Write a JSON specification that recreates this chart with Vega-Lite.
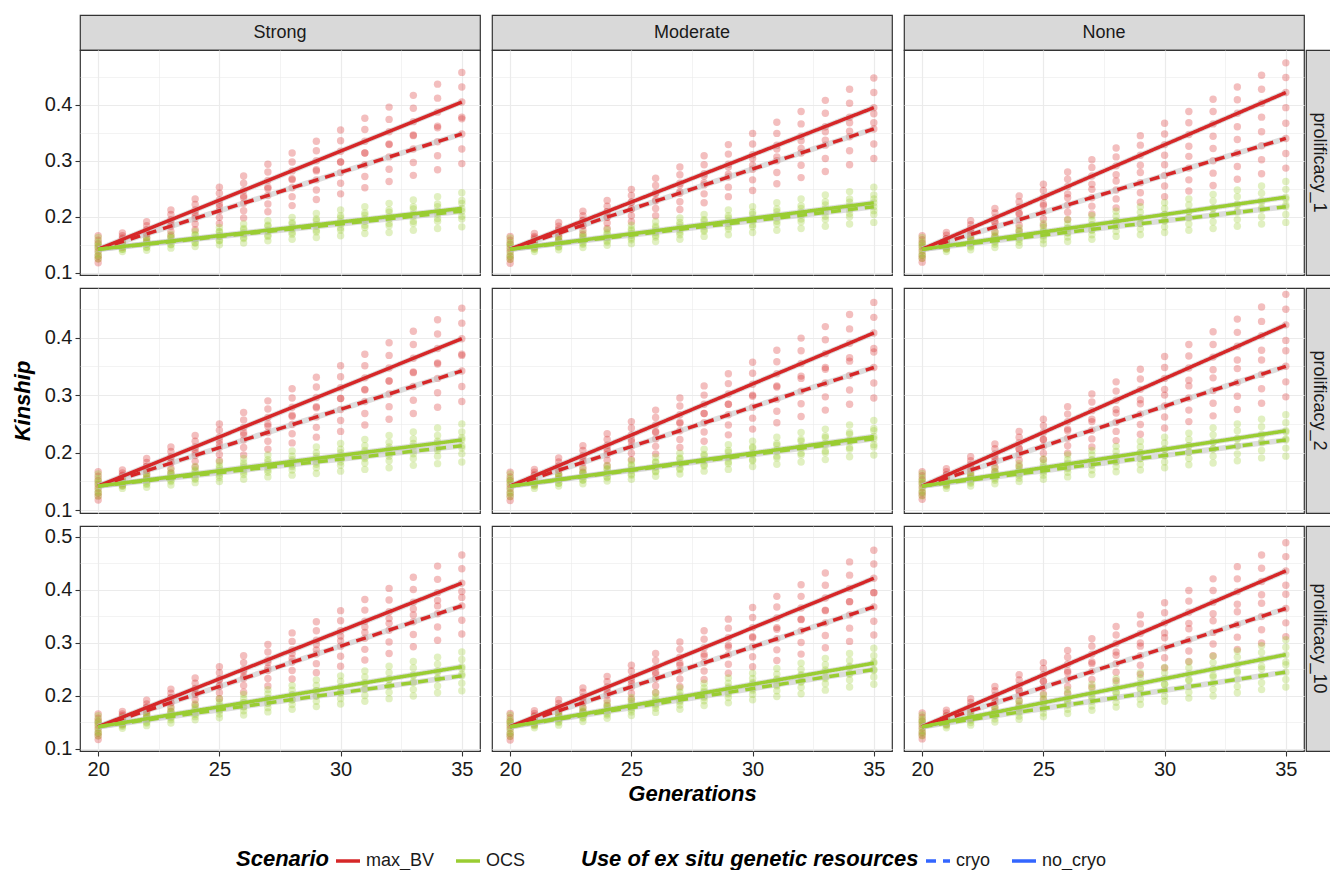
{
"$schema":"https://vega.github.io/schema/vega-lite/v6.json",
"background":"white",
"padding":{"left":10,"top":14,"right":0,"bottom":0},
"columns":6,
"spacing":{"row":0,"column":2},
"bounds":"flush",
"resolve":{"scale":{"color":"shared","strokeDash":"shared"}},
"datasets":{
"p1S":[
{"g":20,"max_BV":[0.118,0.13,0.138,0.145,0.152,0.166,0.125,0.158],"OCS":[0.125,0.134,0.141,0.147,0.155,0.163,0.13,0.15]},
{"g":21,"max_BV":[0.145,0.156,0.162,0.154,0.16,0.171,0.15,0.166],"OCS":[0.138,0.147,0.152,0.142,0.147,0.156,0.142,0.152]},
{"g":22,"max_BV":[0.155,0.169,0.176,0.17,0.177,0.191,0.162,0.184],"OCS":[0.14,0.151,0.157,0.146,0.152,0.163,0.145,0.158]},
{"g":23,"max_BV":[0.166,0.183,0.192,0.186,0.195,0.212,0.174,0.204],"OCS":[0.144,0.156,0.162,0.151,0.157,0.169,0.15,0.163]},
{"g":24,"max_BV":[0.177,0.197,0.207,0.202,0.212,0.232,0.187,0.222],"OCS":[0.147,0.16,0.167,0.154,0.161,0.174,0.153,0.168]},
{"g":25,"max_BV":[0.188,0.211,0.223,0.218,0.23,0.253,0.199,0.242],"OCS":[0.15,0.165,0.173,0.158,0.166,0.181,0.157,0.174]},
{"g":26,"max_BV":[0.198,0.224,0.237,0.234,0.247,0.273,0.211,0.26],"OCS":[0.153,0.169,0.177,0.163,0.171,0.187,0.161,0.179]},
{"g":27,"max_BV":[0.209,0.238,0.253,0.25,0.265,0.294,0.223,0.28],"OCS":[0.157,0.174,0.183,0.167,0.176,0.193,0.165,0.185]},
{"g":28,"max_BV":[0.22,0.252,0.268,0.266,0.282,0.314,0.236,0.298],"OCS":[0.16,0.178,0.187,0.172,0.181,0.199,0.169,0.19]},
{"g":29,"max_BV":[0.231,0.266,0.284,0.282,0.3,0.335,0.248,0.318],"OCS":[0.163,0.183,0.193,0.176,0.186,0.206,0.173,0.196]},
{"g":30,"max_BV":[0.241,0.279,0.298,0.298,0.317,0.355,0.26,0.336],"OCS":[0.166,0.187,0.198,0.18,0.191,0.212,0.176,0.202]},
{"g":31,"max_BV":[0.252,0.293,0.314,0.314,0.335,0.376,0.272,0.356],"OCS":[0.17,0.192,0.203,0.185,0.196,0.218,0.181,0.207]},
{"g":32,"max_BV":[0.263,0.307,0.329,0.33,0.352,0.396,0.285,0.374],"OCS":[0.172,0.196,0.208,0.188,0.2,0.224,0.184,0.212]},
{"g":33,"max_BV":[0.274,0.321,0.345,0.346,0.37,0.417,0.297,0.394],"OCS":[0.176,0.201,0.214,0.192,0.205,0.23,0.188,0.218]},
{"g":34,"max_BV":[0.284,0.334,0.359,0.362,0.387,0.437,0.309,0.412],"OCS":[0.179,0.205,0.218,0.197,0.21,0.236,0.192,0.223]},
{"g":35,"max_BV":[0.295,0.348,0.375,0.378,0.405,0.458,0.321,0.432],"OCS":[0.182,0.21,0.224,0.201,0.215,0.243,0.196,0.229]}
],
"p1M":[
{"g":20,"max_BV":[0.117,0.129,0.137,0.144,0.151,0.165,0.124,0.158],"OCS":[0.124,0.133,0.14,0.147,0.154,0.162,0.129,0.151]},
{"g":21,"max_BV":[0.145,0.156,0.162,0.153,0.159,0.17,0.15,0.165],"OCS":[0.138,0.147,0.152,0.143,0.148,0.157,0.142,0.153]},
{"g":22,"max_BV":[0.157,0.171,0.178,0.169,0.176,0.19,0.164,0.183],"OCS":[0.141,0.152,0.158,0.147,0.153,0.164,0.146,0.159]},
{"g":23,"max_BV":[0.168,0.185,0.194,0.184,0.193,0.21,0.176,0.202],"OCS":[0.145,0.157,0.163,0.153,0.159,0.171,0.151,0.165]},
{"g":24,"max_BV":[0.179,0.199,0.209,0.199,0.209,0.229,0.189,0.219],"OCS":[0.149,0.162,0.169,0.157,0.164,0.177,0.155,0.171]},
{"g":25,"max_BV":[0.191,0.214,0.226,0.214,0.226,0.249,0.202,0.238],"OCS":[0.152,0.167,0.175,0.162,0.17,0.185,0.159,0.178]},
{"g":26,"max_BV":[0.202,0.228,0.241,0.23,0.243,0.269,0.215,0.256],"OCS":[0.156,0.172,0.18,0.167,0.175,0.191,0.164,0.183]},
{"g":27,"max_BV":[0.213,0.242,0.257,0.245,0.26,0.289,0.227,0.275],"OCS":[0.16,0.177,0.186,0.172,0.181,0.198,0.168,0.19]},
{"g":28,"max_BV":[0.225,0.257,0.273,0.261,0.277,0.309,0.241,0.293],"OCS":[0.165,0.183,0.192,0.177,0.186,0.204,0.174,0.195]},
{"g":29,"max_BV":[0.236,0.271,0.289,0.276,0.294,0.329,0.253,0.312],"OCS":[0.168,0.188,0.198,0.182,0.192,0.212,0.178,0.202]},
{"g":30,"max_BV":[0.247,0.285,0.304,0.292,0.311,0.349,0.266,0.33],"OCS":[0.172,0.193,0.204,0.186,0.197,0.218,0.182,0.208]},
{"g":31,"max_BV":[0.259,0.3,0.321,0.307,0.328,0.369,0.279,0.349],"OCS":[0.176,0.198,0.209,0.192,0.203,0.225,0.187,0.214]},
{"g":32,"max_BV":[0.27,0.314,0.336,0.322,0.344,0.388,0.292,0.366],"OCS":[0.179,0.203,0.215,0.196,0.208,0.232,0.191,0.22]},
{"g":33,"max_BV":[0.281,0.328,0.352,0.337,0.361,0.408,0.304,0.385],"OCS":[0.183,0.208,0.221,0.201,0.214,0.239,0.195,0.227]},
{"g":34,"max_BV":[0.293,0.343,0.368,0.353,0.378,0.428,0.318,0.403],"OCS":[0.187,0.213,0.226,0.206,0.219,0.245,0.2,0.232]},
{"g":35,"max_BV":[0.304,0.357,0.384,0.368,0.395,0.448,0.33,0.422],"OCS":[0.19,0.218,0.232,0.211,0.225,0.253,0.204,0.239]}
],
"p1N":[
{"g":20,"max_BV":[0.119,0.131,0.139,0.146,0.153,0.166,0.126,0.159],"OCS":[0.126,0.135,0.142,0.148,0.155,0.163,0.131,0.151]},
{"g":21,"max_BV":[0.144,0.155,0.161,0.155,0.161,0.172,0.149,0.167],"OCS":[0.138,0.147,0.152,0.143,0.148,0.157,0.142,0.153]},
{"g":22,"max_BV":[0.154,0.168,0.175,0.172,0.179,0.193,0.161,0.186],"OCS":[0.141,0.152,0.158,0.148,0.154,0.165,0.146,0.16]},
{"g":23,"max_BV":[0.165,0.182,0.191,0.189,0.198,0.215,0.173,0.207],"OCS":[0.145,0.157,0.163,0.155,0.161,0.173,0.151,0.167]},
{"g":24,"max_BV":[0.175,0.195,0.205,0.207,0.217,0.237,0.185,0.227],"OCS":[0.149,0.162,0.169,0.16,0.167,0.18,0.155,0.174]},
{"g":25,"max_BV":[0.185,0.208,0.22,0.223,0.235,0.258,0.196,0.247],"OCS":[0.152,0.167,0.175,0.165,0.173,0.188,0.159,0.181]},
{"g":26,"max_BV":[0.195,0.221,0.234,0.241,0.254,0.28,0.208,0.267],"OCS":[0.156,0.172,0.18,0.171,0.179,0.195,0.164,0.187]},
{"g":27,"max_BV":[0.205,0.234,0.249,0.258,0.273,0.302,0.219,0.288],"OCS":[0.16,0.177,0.186,0.176,0.185,0.202,0.168,0.194]},
{"g":28,"max_BV":[0.216,0.248,0.264,0.275,0.291,0.323,0.232,0.307],"OCS":[0.165,0.183,0.192,0.183,0.192,0.21,0.174,0.201]},
{"g":29,"max_BV":[0.226,0.261,0.279,0.292,0.31,0.345,0.243,0.328],"OCS":[0.168,0.188,0.198,0.188,0.198,0.218,0.178,0.208]},
{"g":30,"max_BV":[0.236,0.274,0.293,0.31,0.329,0.367,0.255,0.348],"OCS":[0.172,0.193,0.204,0.193,0.204,0.225,0.182,0.215]},
{"g":31,"max_BV":[0.246,0.287,0.308,0.326,0.347,0.388,0.266,0.368],"OCS":[0.176,0.198,0.209,0.199,0.21,0.232,0.187,0.221]},
{"g":32,"max_BV":[0.256,0.3,0.322,0.344,0.366,0.41,0.278,0.388],"OCS":[0.179,0.203,0.215,0.204,0.216,0.24,0.191,0.228]},
{"g":33,"max_BV":[0.267,0.314,0.338,0.361,0.385,0.432,0.29,0.409],"OCS":[0.183,0.208,0.221,0.21,0.223,0.248,0.195,0.236]},
{"g":34,"max_BV":[0.277,0.327,0.352,0.378,0.403,0.453,0.302,0.428],"OCS":[0.187,0.213,0.226,0.216,0.229,0.255,0.2,0.242]},
{"g":35,"max_BV":[0.287,0.34,0.367,0.395,0.422,0.475,0.313,0.449],"OCS":[0.19,0.218,0.232,0.221,0.235,0.263,0.204,0.249]}
],
"p2S":[
{"g":20,"max_BV":[0.118,0.13,0.138,0.145,0.152,0.167,0.125,0.159],"OCS":[0.125,0.134,0.141,0.147,0.155,0.163,0.13,0.15]},
{"g":21,"max_BV":[0.144,0.155,0.161,0.153,0.159,0.17,0.149,0.165],"OCS":[0.138,0.147,0.152,0.142,0.147,0.156,0.142,0.152]},
{"g":22,"max_BV":[0.155,0.169,0.176,0.169,0.176,0.19,0.162,0.183],"OCS":[0.14,0.151,0.157,0.147,0.153,0.164,0.145,0.159]},
{"g":23,"max_BV":[0.165,0.182,0.191,0.184,0.193,0.21,0.173,0.202],"OCS":[0.144,0.156,0.162,0.152,0.158,0.17,0.15,0.164]},
{"g":24,"max_BV":[0.175,0.195,0.205,0.2,0.21,0.23,0.185,0.22],"OCS":[0.148,0.161,0.168,0.156,0.163,0.176,0.154,0.17]},
{"g":25,"max_BV":[0.186,0.209,0.221,0.215,0.227,0.25,0.197,0.239],"OCS":[0.15,0.165,0.173,0.161,0.169,0.184,0.157,0.177]},
{"g":26,"max_BV":[0.196,0.222,0.235,0.231,0.244,0.27,0.209,0.257],"OCS":[0.154,0.17,0.178,0.166,0.174,0.19,0.162,0.182]},
{"g":27,"max_BV":[0.206,0.235,0.25,0.246,0.261,0.29,0.22,0.276],"OCS":[0.158,0.175,0.184,0.17,0.179,0.196,0.166,0.188]},
{"g":28,"max_BV":[0.217,0.249,0.265,0.263,0.279,0.311,0.233,0.295],"OCS":[0.161,0.179,0.188,0.176,0.185,0.203,0.17,0.194]},
{"g":29,"max_BV":[0.227,0.262,0.28,0.278,0.296,0.331,0.244,0.314],"OCS":[0.164,0.184,0.194,0.18,0.19,0.21,0.174,0.2]},
{"g":30,"max_BV":[0.237,0.275,0.294,0.294,0.313,0.351,0.256,0.332],"OCS":[0.168,0.189,0.2,0.184,0.195,0.216,0.178,0.206]},
{"g":31,"max_BV":[0.248,0.289,0.31,0.309,0.33,0.371,0.268,0.351],"OCS":[0.171,0.193,0.204,0.19,0.201,0.223,0.182,0.212]},
{"g":32,"max_BV":[0.258,0.302,0.324,0.325,0.347,0.391,0.28,0.369],"OCS":[0.174,0.198,0.21,0.194,0.206,0.23,0.186,0.218]},
{"g":33,"max_BV":[0.268,0.315,0.339,0.34,0.364,0.411,0.291,0.388],"OCS":[0.178,0.203,0.216,0.198,0.211,0.236,0.19,0.224]},
{"g":34,"max_BV":[0.279,0.329,0.354,0.356,0.381,0.431,0.304,0.406],"OCS":[0.181,0.207,0.22,0.204,0.217,0.243,0.194,0.23]},
{"g":35,"max_BV":[0.289,0.342,0.369,0.371,0.398,0.451,0.315,0.425],"OCS":[0.184,0.212,0.226,0.208,0.222,0.25,0.198,0.236]}
],
"p2M":[
{"g":20,"max_BV":[0.117,0.13,0.138,0.145,0.152,0.166,0.124,0.158],"OCS":[0.124,0.134,0.141,0.148,0.155,0.163,0.129,0.151]},
{"g":21,"max_BV":[0.145,0.156,0.162,0.154,0.16,0.171,0.15,0.166],"OCS":[0.138,0.147,0.152,0.143,0.148,0.157,0.142,0.153]},
{"g":22,"max_BV":[0.155,0.169,0.176,0.17,0.177,0.191,0.162,0.184],"OCS":[0.142,0.153,0.159,0.147,0.153,0.164,0.147,0.159]},
{"g":23,"max_BV":[0.166,0.183,0.192,0.186,0.195,0.212,0.174,0.204],"OCS":[0.146,0.158,0.164,0.153,0.159,0.171,0.152,0.165]},
{"g":24,"max_BV":[0.177,0.197,0.207,0.203,0.213,0.233,0.187,0.223],"OCS":[0.151,0.164,0.171,0.158,0.165,0.178,0.157,0.172]},
{"g":25,"max_BV":[0.188,0.211,0.223,0.219,0.231,0.254,0.199,0.243],"OCS":[0.154,0.169,0.177,0.163,0.171,0.186,0.161,0.179]},
{"g":26,"max_BV":[0.198,0.224,0.237,0.235,0.248,0.274,0.211,0.261],"OCS":[0.159,0.175,0.183,0.168,0.176,0.192,0.167,0.184]},
{"g":27,"max_BV":[0.209,0.238,0.253,0.251,0.266,0.295,0.223,0.281],"OCS":[0.163,0.18,0.189,0.173,0.182,0.199,0.171,0.191]},
{"g":28,"max_BV":[0.22,0.252,0.268,0.268,0.284,0.316,0.236,0.3],"OCS":[0.168,0.186,0.195,0.179,0.188,0.206,0.177,0.197]},
{"g":29,"max_BV":[0.231,0.266,0.284,0.284,0.302,0.337,0.248,0.32],"OCS":[0.171,0.191,0.201,0.184,0.194,0.214,0.181,0.204]},
{"g":30,"max_BV":[0.241,0.279,0.298,0.3,0.319,0.357,0.26,0.338],"OCS":[0.176,0.197,0.208,0.188,0.199,0.22,0.186,0.21]},
{"g":31,"max_BV":[0.252,0.293,0.314,0.316,0.337,0.378,0.272,0.358],"OCS":[0.18,0.202,0.213,0.194,0.205,0.227,0.191,0.216]},
{"g":32,"max_BV":[0.263,0.307,0.329,0.333,0.355,0.399,0.285,0.377],"OCS":[0.184,0.208,0.22,0.199,0.211,0.235,0.196,0.223]},
{"g":33,"max_BV":[0.274,0.321,0.345,0.348,0.372,0.419,0.297,0.396],"OCS":[0.188,0.213,0.226,0.203,0.216,0.241,0.2,0.229]},
{"g":34,"max_BV":[0.284,0.334,0.359,0.365,0.39,0.44,0.309,0.415],"OCS":[0.193,0.219,0.232,0.209,0.222,0.248,0.206,0.235]},
{"g":35,"max_BV":[0.295,0.348,0.375,0.381,0.408,0.461,0.321,0.435],"OCS":[0.196,0.224,0.238,0.214,0.228,0.256,0.21,0.242]}
],
"p2N":[
{"g":20,"max_BV":[0.119,0.131,0.139,0.146,0.153,0.167,0.126,0.16],"OCS":[0.125,0.135,0.142,0.148,0.156,0.164,0.131,0.151]},
{"g":21,"max_BV":[0.145,0.156,0.162,0.155,0.161,0.172,0.15,0.167],"OCS":[0.138,0.147,0.152,0.143,0.148,0.157,0.142,0.153]},
{"g":22,"max_BV":[0.156,0.17,0.177,0.172,0.179,0.193,0.163,0.186],"OCS":[0.142,0.153,0.159,0.149,0.155,0.166,0.147,0.161]},
{"g":23,"max_BV":[0.167,0.184,0.193,0.189,0.198,0.215,0.175,0.207],"OCS":[0.146,0.158,0.164,0.155,0.161,0.173,0.152,0.167]},
{"g":24,"max_BV":[0.177,0.197,0.207,0.207,0.217,0.237,0.187,0.227],"OCS":[0.15,0.163,0.17,0.161,0.168,0.181,0.156,0.175]},
{"g":25,"max_BV":[0.188,0.211,0.223,0.223,0.235,0.258,0.199,0.247],"OCS":[0.154,0.169,0.177,0.166,0.174,0.189,0.161,0.182]},
{"g":26,"max_BV":[0.199,0.225,0.238,0.241,0.254,0.28,0.212,0.267],"OCS":[0.158,0.174,0.182,0.172,0.18,0.196,0.166,0.188]},
{"g":27,"max_BV":[0.21,0.239,0.254,0.258,0.273,0.302,0.224,0.288],"OCS":[0.162,0.179,0.188,0.178,0.187,0.204,0.17,0.196]},
{"g":28,"max_BV":[0.221,0.253,0.269,0.275,0.291,0.323,0.237,0.307],"OCS":[0.167,0.185,0.194,0.184,0.193,0.211,0.176,0.202]},
{"g":29,"max_BV":[0.232,0.267,0.285,0.292,0.31,0.345,0.249,0.328],"OCS":[0.17,0.19,0.2,0.19,0.2,0.22,0.18,0.21]},
{"g":30,"max_BV":[0.243,0.281,0.3,0.31,0.329,0.367,0.262,0.348],"OCS":[0.174,0.195,0.206,0.195,0.206,0.227,0.184,0.217]},
{"g":31,"max_BV":[0.254,0.295,0.316,0.326,0.347,0.388,0.274,0.368],"OCS":[0.179,0.201,0.212,0.201,0.212,0.234,0.19,0.223]},
{"g":32,"max_BV":[0.264,0.308,0.33,0.344,0.366,0.41,0.286,0.388],"OCS":[0.182,0.206,0.218,0.207,0.219,0.243,0.194,0.231]},
{"g":33,"max_BV":[0.275,0.322,0.346,0.361,0.385,0.432,0.298,0.409],"OCS":[0.186,0.211,0.224,0.212,0.225,0.25,0.198,0.238]},
{"g":34,"max_BV":[0.286,0.336,0.361,0.378,0.403,0.453,0.311,0.428],"OCS":[0.191,0.217,0.23,0.219,0.232,0.258,0.204,0.245]},
{"g":35,"max_BV":[0.297,0.35,0.377,0.395,0.422,0.475,0.323,0.449],"OCS":[0.194,0.222,0.236,0.224,0.238,0.266,0.208,0.252]}
],
"p3S":[
{"g":20,"max_BV":[0.118,0.13,0.138,0.145,0.152,0.166,0.125,0.158],"OCS":[0.125,0.134,0.141,0.148,0.155,0.163,0.13,0.15]},
{"g":21,"max_BV":[0.146,0.157,0.163,0.154,0.16,0.171,0.151,0.166],"OCS":[0.139,0.148,0.153,0.145,0.15,0.159,0.143,0.155]},
{"g":22,"max_BV":[0.158,0.172,0.179,0.171,0.178,0.192,0.165,0.185],"OCS":[0.144,0.155,0.161,0.151,0.157,0.168,0.149,0.163]},
{"g":23,"max_BV":[0.171,0.188,0.197,0.187,0.196,0.213,0.179,0.205],"OCS":[0.149,0.161,0.167,0.159,0.165,0.177,0.155,0.171]},
{"g":24,"max_BV":[0.183,0.203,0.213,0.204,0.214,0.234,0.193,0.224],"OCS":[0.155,0.168,0.175,0.165,0.172,0.185,0.161,0.179]},
{"g":25,"max_BV":[0.195,0.218,0.23,0.22,0.232,0.255,0.206,0.244],"OCS":[0.159,0.174,0.182,0.172,0.18,0.195,0.166,0.188]},
{"g":26,"max_BV":[0.207,0.233,0.246,0.237,0.25,0.276,0.22,0.263],"OCS":[0.164,0.18,0.188,0.179,0.187,0.203,0.172,0.195]},
{"g":27,"max_BV":[0.219,0.248,0.263,0.253,0.268,0.297,0.233,0.283],"OCS":[0.17,0.187,0.196,0.186,0.195,0.212,0.178,0.204]},
{"g":28,"max_BV":[0.232,0.264,0.28,0.271,0.287,0.319,0.248,0.303],"OCS":[0.175,0.193,0.202,0.193,0.202,0.22,0.184,0.211]},
{"g":29,"max_BV":[0.244,0.279,0.297,0.287,0.305,0.34,0.261,0.323],"OCS":[0.18,0.2,0.21,0.2,0.21,0.23,0.19,0.22]},
{"g":30,"max_BV":[0.256,0.294,0.313,0.304,0.323,0.361,0.275,0.342],"OCS":[0.185,0.206,0.217,0.206,0.217,0.238,0.195,0.228]},
{"g":31,"max_BV":[0.268,0.309,0.33,0.32,0.341,0.382,0.288,0.362],"OCS":[0.19,0.212,0.223,0.214,0.225,0.247,0.201,0.236]},
{"g":32,"max_BV":[0.28,0.324,0.346,0.337,0.359,0.403,0.302,0.381],"OCS":[0.195,0.219,0.231,0.22,0.232,0.256,0.207,0.244]},
{"g":33,"max_BV":[0.293,0.34,0.364,0.353,0.377,0.424,0.316,0.401],"OCS":[0.2,0.225,0.238,0.227,0.24,0.265,0.212,0.253]},
{"g":34,"max_BV":[0.305,0.355,0.38,0.37,0.395,0.445,0.33,0.42],"OCS":[0.206,0.232,0.245,0.234,0.247,0.273,0.219,0.26]},
{"g":35,"max_BV":[0.317,0.37,0.397,0.386,0.413,0.466,0.343,0.44],"OCS":[0.21,0.238,0.252,0.241,0.255,0.283,0.224,0.269]}
],
"p3M":[
{"g":20,"max_BV":[0.117,0.129,0.138,0.145,0.152,0.167,0.124,0.159],"OCS":[0.124,0.134,0.141,0.148,0.155,0.164,0.129,0.151]},
{"g":21,"max_BV":[0.146,0.157,0.163,0.155,0.161,0.172,0.151,0.167],"OCS":[0.14,0.149,0.154,0.145,0.15,0.159,0.144,0.155]},
{"g":22,"max_BV":[0.158,0.172,0.179,0.172,0.179,0.193,0.165,0.186],"OCS":[0.145,0.156,0.162,0.152,0.158,0.169,0.15,0.164]},
{"g":23,"max_BV":[0.17,0.187,0.196,0.189,0.198,0.215,0.178,0.207],"OCS":[0.152,0.164,0.17,0.16,0.166,0.178,0.158,0.172]},
{"g":24,"max_BV":[0.182,0.202,0.212,0.207,0.217,0.237,0.192,0.227],"OCS":[0.158,0.171,0.178,0.167,0.174,0.187,0.164,0.181]},
{"g":25,"max_BV":[0.194,0.217,0.229,0.223,0.235,0.258,0.205,0.247],"OCS":[0.163,0.178,0.186,0.174,0.182,0.197,0.17,0.19]},
{"g":26,"max_BV":[0.206,0.232,0.245,0.241,0.254,0.28,0.219,0.267],"OCS":[0.169,0.185,0.193,0.182,0.19,0.206,0.177,0.198]},
{"g":27,"max_BV":[0.218,0.247,0.262,0.258,0.273,0.302,0.232,0.288],"OCS":[0.175,0.192,0.201,0.189,0.198,0.215,0.183,0.207]},
{"g":28,"max_BV":[0.231,0.263,0.279,0.275,0.291,0.323,0.247,0.307],"OCS":[0.182,0.2,0.209,0.197,0.206,0.224,0.191,0.215]},
{"g":29,"max_BV":[0.243,0.278,0.296,0.292,0.31,0.345,0.26,0.328],"OCS":[0.187,0.207,0.217,0.204,0.214,0.234,0.197,0.224]},
{"g":30,"max_BV":[0.255,0.293,0.312,0.31,0.329,0.367,0.274,0.348],"OCS":[0.193,0.214,0.225,0.211,0.222,0.243,0.203,0.233]},
{"g":31,"max_BV":[0.267,0.308,0.329,0.326,0.347,0.388,0.287,0.368],"OCS":[0.199,0.221,0.232,0.219,0.23,0.252,0.21,0.241]},
{"g":32,"max_BV":[0.279,0.323,0.345,0.344,0.366,0.41,0.301,0.388],"OCS":[0.204,0.228,0.24,0.226,0.238,0.262,0.216,0.25]},
{"g":33,"max_BV":[0.291,0.338,0.362,0.361,0.385,0.432,0.314,0.409],"OCS":[0.211,0.236,0.249,0.233,0.246,0.271,0.223,0.259]},
{"g":34,"max_BV":[0.303,0.353,0.378,0.378,0.403,0.453,0.328,0.428],"OCS":[0.217,0.243,0.256,0.241,0.254,0.28,0.23,0.267]},
{"g":35,"max_BV":[0.315,0.368,0.395,0.395,0.422,0.475,0.341,0.449],"OCS":[0.222,0.25,0.264,0.248,0.262,0.29,0.236,0.276]}
],
"p3N":[
{"g":20,"max_BV":[0.119,0.131,0.139,0.146,0.153,0.168,0.126,0.16],"OCS":[0.125,0.135,0.142,0.149,0.156,0.164,0.13,0.152]},
{"g":21,"max_BV":[0.146,0.157,0.163,0.156,0.162,0.173,0.151,0.168],"OCS":[0.14,0.149,0.154,0.146,0.151,0.16,0.144,0.156]},
{"g":22,"max_BV":[0.158,0.172,0.179,0.174,0.181,0.195,0.165,0.188],"OCS":[0.145,0.156,0.162,0.154,0.16,0.171,0.15,0.166]},
{"g":23,"max_BV":[0.17,0.187,0.196,0.192,0.201,0.218,0.178,0.21],"OCS":[0.151,0.163,0.169,0.163,0.169,0.181,0.157,0.175]},
{"g":24,"max_BV":[0.181,0.201,0.211,0.21,0.22,0.24,0.191,0.23],"OCS":[0.156,0.169,0.176,0.171,0.178,0.191,0.162,0.185]},
{"g":25,"max_BV":[0.193,0.216,0.228,0.228,0.24,0.263,0.204,0.252],"OCS":[0.161,0.176,0.184,0.179,0.187,0.202,0.168,0.195]},
{"g":26,"max_BV":[0.205,0.231,0.244,0.247,0.26,0.286,0.218,0.273],"OCS":[0.167,0.183,0.191,0.188,0.196,0.212,0.175,0.204]},
{"g":27,"max_BV":[0.217,0.246,0.261,0.264,0.279,0.308,0.231,0.294],"OCS":[0.173,0.19,0.199,0.196,0.205,0.222,0.181,0.214]},
{"g":28,"max_BV":[0.229,0.261,0.277,0.283,0.299,0.331,0.245,0.315],"OCS":[0.179,0.197,0.206,0.206,0.215,0.233,0.188,0.224]},
{"g":29,"max_BV":[0.241,0.276,0.294,0.3,0.318,0.353,0.258,0.336],"OCS":[0.184,0.204,0.214,0.214,0.224,0.244,0.194,0.234]},
{"g":30,"max_BV":[0.253,0.291,0.31,0.319,0.338,0.376,0.272,0.357],"OCS":[0.19,0.211,0.222,0.222,0.233,0.254,0.2,0.244]},
{"g":31,"max_BV":[0.265,0.306,0.327,0.337,0.358,0.399,0.285,0.379],"OCS":[0.196,0.218,0.229,0.231,0.242,0.264,0.207,0.253]},
{"g":32,"max_BV":[0.276,0.32,0.342,0.355,0.377,0.421,0.298,0.399],"OCS":[0.2,0.224,0.236,0.239,0.251,0.275,0.212,0.263]},
{"g":33,"max_BV":[0.288,0.335,0.359,0.373,0.397,0.444,0.311,0.421],"OCS":[0.206,0.231,0.244,0.247,0.26,0.285,0.218,0.273]},
{"g":34,"max_BV":[0.3,0.35,0.375,0.391,0.416,0.466,0.325,0.441],"OCS":[0.212,0.238,0.251,0.256,0.269,0.295,0.225,0.282]},
{"g":35,"max_BV":[0.312,0.365,0.392,0.409,0.436,0.489,0.338,0.463],"OCS":[0.217,0.245,0.259,0.264,0.278,0.306,0.231,0.292]}
],
"lines":[
{"p":"1S","scenario":"max_BV","cryo":"no_cryo","g":20,"k":0.142},{"p":"1S","scenario":"max_BV","cryo":"no_cryo","g":35,"k":0.405},
{"p":"1S","scenario":"max_BV","cryo":"cryo","g":20,"k":0.142},{"p":"1S","scenario":"max_BV","cryo":"cryo","g":35,"k":0.348},
{"p":"1S","scenario":"OCS","cryo":"no_cryo","g":20,"k":0.142},{"p":"1S","scenario":"OCS","cryo":"no_cryo","g":35,"k":0.215},
{"p":"1S","scenario":"OCS","cryo":"cryo","g":20,"k":0.142},{"p":"1S","scenario":"OCS","cryo":"cryo","g":35,"k":0.21},
{"p":"1M","scenario":"max_BV","cryo":"no_cryo","g":20,"k":0.142},{"p":"1M","scenario":"max_BV","cryo":"no_cryo","g":35,"k":0.395},
{"p":"1M","scenario":"max_BV","cryo":"cryo","g":20,"k":0.142},{"p":"1M","scenario":"max_BV","cryo":"cryo","g":35,"k":0.357},
{"p":"1M","scenario":"OCS","cryo":"no_cryo","g":20,"k":0.142},{"p":"1M","scenario":"OCS","cryo":"no_cryo","g":35,"k":0.225},
{"p":"1M","scenario":"OCS","cryo":"cryo","g":20,"k":0.142},{"p":"1M","scenario":"OCS","cryo":"cryo","g":35,"k":0.218},
{"p":"1N","scenario":"max_BV","cryo":"no_cryo","g":20,"k":0.142},{"p":"1N","scenario":"max_BV","cryo":"no_cryo","g":35,"k":0.422},
{"p":"1N","scenario":"max_BV","cryo":"cryo","g":20,"k":0.142},{"p":"1N","scenario":"max_BV","cryo":"cryo","g":35,"k":0.34},
{"p":"1N","scenario":"OCS","cryo":"no_cryo","g":20,"k":0.142},{"p":"1N","scenario":"OCS","cryo":"no_cryo","g":35,"k":0.235},
{"p":"1N","scenario":"OCS","cryo":"cryo","g":20,"k":0.142},{"p":"1N","scenario":"OCS","cryo":"cryo","g":35,"k":0.218},
{"p":"2S","scenario":"max_BV","cryo":"no_cryo","g":20,"k":0.142},{"p":"2S","scenario":"max_BV","cryo":"no_cryo","g":35,"k":0.398},
{"p":"2S","scenario":"max_BV","cryo":"cryo","g":20,"k":0.142},{"p":"2S","scenario":"max_BV","cryo":"cryo","g":35,"k":0.342},
{"p":"2S","scenario":"OCS","cryo":"no_cryo","g":20,"k":0.142},{"p":"2S","scenario":"OCS","cryo":"no_cryo","g":35,"k":0.222},
{"p":"2S","scenario":"OCS","cryo":"cryo","g":20,"k":0.142},{"p":"2S","scenario":"OCS","cryo":"cryo","g":35,"k":0.212},
{"p":"2M","scenario":"max_BV","cryo":"no_cryo","g":20,"k":0.142},{"p":"2M","scenario":"max_BV","cryo":"no_cryo","g":35,"k":0.408},
{"p":"2M","scenario":"max_BV","cryo":"cryo","g":20,"k":0.142},{"p":"2M","scenario":"max_BV","cryo":"cryo","g":35,"k":0.348},
{"p":"2M","scenario":"OCS","cryo":"no_cryo","g":20,"k":0.142},{"p":"2M","scenario":"OCS","cryo":"no_cryo","g":35,"k":0.228},
{"p":"2M","scenario":"OCS","cryo":"cryo","g":20,"k":0.142},{"p":"2M","scenario":"OCS","cryo":"cryo","g":35,"k":0.224},
{"p":"2N","scenario":"max_BV","cryo":"no_cryo","g":20,"k":0.142},{"p":"2N","scenario":"max_BV","cryo":"no_cryo","g":35,"k":0.422},
{"p":"2N","scenario":"max_BV","cryo":"cryo","g":20,"k":0.142},{"p":"2N","scenario":"max_BV","cryo":"cryo","g":35,"k":0.35},
{"p":"2N","scenario":"OCS","cryo":"no_cryo","g":20,"k":0.142},{"p":"2N","scenario":"OCS","cryo":"no_cryo","g":35,"k":0.238},
{"p":"2N","scenario":"OCS","cryo":"cryo","g":20,"k":0.142},{"p":"2N","scenario":"OCS","cryo":"cryo","g":35,"k":0.222},
{"p":"3S","scenario":"max_BV","cryo":"no_cryo","g":20,"k":0.142},{"p":"3S","scenario":"max_BV","cryo":"no_cryo","g":35,"k":0.413},
{"p":"3S","scenario":"max_BV","cryo":"cryo","g":20,"k":0.142},{"p":"3S","scenario":"max_BV","cryo":"cryo","g":35,"k":0.37},
{"p":"3S","scenario":"OCS","cryo":"no_cryo","g":20,"k":0.142},{"p":"3S","scenario":"OCS","cryo":"no_cryo","g":35,"k":0.255},
{"p":"3S","scenario":"OCS","cryo":"cryo","g":20,"k":0.142},{"p":"3S","scenario":"OCS","cryo":"cryo","g":35,"k":0.238},
{"p":"3M","scenario":"max_BV","cryo":"no_cryo","g":20,"k":0.142},{"p":"3M","scenario":"max_BV","cryo":"no_cryo","g":35,"k":0.422},
{"p":"3M","scenario":"max_BV","cryo":"cryo","g":20,"k":0.142},{"p":"3M","scenario":"max_BV","cryo":"cryo","g":35,"k":0.368},
{"p":"3M","scenario":"OCS","cryo":"no_cryo","g":20,"k":0.142},{"p":"3M","scenario":"OCS","cryo":"no_cryo","g":35,"k":0.262},
{"p":"3M","scenario":"OCS","cryo":"cryo","g":20,"k":0.142},{"p":"3M","scenario":"OCS","cryo":"cryo","g":35,"k":0.25},
{"p":"3N","scenario":"max_BV","cryo":"no_cryo","g":20,"k":0.142},{"p":"3N","scenario":"max_BV","cryo":"no_cryo","g":35,"k":0.436},
{"p":"3N","scenario":"max_BV","cryo":"cryo","g":20,"k":0.142},{"p":"3N","scenario":"max_BV","cryo":"cryo","g":35,"k":0.365},
{"p":"3N","scenario":"OCS","cryo":"no_cryo","g":20,"k":0.142},{"p":"3N","scenario":"OCS","cryo":"no_cryo","g":35,"k":0.278},
{"p":"3N","scenario":"OCS","cryo":"cryo","g":20,"k":0.142},{"p":"3N","scenario":"OCS","cryo":"cryo","g":35,"k":0.245}
]
},
"concat":[
{"width":400,"height":35,"view":{"fill":"#D9D9D9","stroke":"#333333","strokeWidth":1.2},"data":{"values":[{"label":"Strong"}]},"mark":{"type":"text","fontSize":18,"color":"#1A1A1A"},"encoding":{"text":{"field":"label"}}},
{"width":8,"height":13,"data":{"values":[{"a":0}]},"mark":{"type":"point","opacity":0}},
{"width":400,"height":35,"view":{"fill":"#D9D9D9","stroke":"#333333","strokeWidth":1.2},"data":{"values":[{"label":"Moderate"}]},"mark":{"type":"text","fontSize":18,"color":"#1A1A1A"},"encoding":{"text":{"field":"label"}}},
{"width":8,"height":13,"data":{"values":[{"a":0}]},"mark":{"type":"point","opacity":0}},
{"width":400,"height":35,"view":{"fill":"#D9D9D9","stroke":"#333333","strokeWidth":1.2},"data":{"values":[{"label":"None"}]},"mark":{"type":"text","fontSize":18,"color":"#1A1A1A"},"encoding":{"text":{"field":"label"}}},
{"width":8,"height":13,"data":{"values":[{"a":0}]},"mark":{"type":"point","opacity":0}},

{"width":400,"height":225,"view":{"stroke":"#333333","strokeWidth":1.2},
"encoding":{"x":{"field":"g","type":"quantitative","scale":{"domain":[19.25,35.75],"nice":false,"zero":false},"axis":{"values":[20,22.5,25,27.5,30,32.5,35],"labels":false,"ticks":false,"gridWidth":{"condition":{"test":"datum.value % 5 != 0","value":0.6},"value":1.2},"title":null}},
"y":{"field":"k","type":"quantitative","scale":{"domain":[0.096,0.498],"nice":false,"zero":false},"axis":{"values":[0.1,0.15,0.2,0.25,0.3,0.35,0.4,0.45],"labelExpr":"abs(datum.value*10-round(datum.value*10))<0.001 ? format(datum.value,'.1f') : ''","tickOpacity":{"condition":{"test":"abs(datum.value*10-round(datum.value*10))>0.001","value":0},"value":1},"gridWidth":{"condition":{"test":"abs(datum.value*10-round(datum.value*10))>0.001","value":0.6},"value":1.2},"title":null}}},
"layer":[
{"data":{"name":"p1S"},"transform":[{"fold":["max_BV","OCS"],"as":["scenario","kv"]},{"flatten":["kv"],"as":["k"]}],"mark":{"type":"circle","size":55,"opacity":0.3},
"encoding":{"color":{"field":"scenario","type":"nominal","scale":{"domain":["max_BV","OCS"],"range":["#D62728","#9ACD32"]},"legend":{"title":"Scenario","symbolType":"stroke","encode":{"symbols":{"update":{"stroke":{"scale":"color","field":"value"},"opacity":{"value":1}}}}}}}},
{"data":{"name":"lines"},"transform":[{"filter":"datum.p=='1S'"}],"mark":{"type":"line","strokeWidth":5.5,"color":"#BBBBBB","opacity":0.5},"encoding":{"detail":[{"field":"scenario"},{"field":"cryo"}]}},
{"data":{"name":"lines"},"transform":[{"filter":"datum.p=='1S'"}],"mark":{"type":"line","strokeWidth":3.5},
"encoding":{"color":{"field":"scenario","type":"nominal","scale":{"domain":["max_BV","OCS"],"range":["#D62728","#9ACD32"]},"legend":{"title":"Scenario","symbolType":"stroke","encode":{"symbols":{"update":{"stroke":{"scale":"color","field":"value"},"opacity":{"value":1}}}}}},
"strokeDash":{"field":"cryo","type":"nominal","scale":{"domain":["cryo","no_cryo"],"range":[[10,7],[1,0]]},"legend":{"title":"Use of ex situ genetic resources","symbolStrokeColor":"#3366FF"}}}}
]},
{"width":8,"height":13,"data":{"values":[{"a":0}]},"mark":{"type":"point","opacity":0}},

{"width":400,"height":225,"view":{"stroke":"#333333","strokeWidth":1.2},
"encoding":{"x":{"field":"g","type":"quantitative","scale":{"domain":[19.25,35.75],"nice":false,"zero":false},"axis":{"values":[20,22.5,25,27.5,30,32.5,35],"labels":false,"ticks":false,"gridWidth":{"condition":{"test":"datum.value % 5 != 0","value":0.6},"value":1.2},"title":null}},
"y":{"field":"k","type":"quantitative","scale":{"domain":[0.096,0.498],"nice":false,"zero":false},"axis":{"values":[0.1,0.15,0.2,0.25,0.3,0.35,0.4,0.45],"labels":false,"ticks":false,"gridWidth":{"condition":{"test":"abs(datum.value*10-round(datum.value*10))>0.001","value":0.6},"value":1.2},"title":null}}},
"layer":[
{"data":{"name":"p1M"},"transform":[{"fold":["max_BV","OCS"],"as":["scenario","kv"]},{"flatten":["kv"],"as":["k"]}],"mark":{"type":"circle","size":55,"opacity":0.3},
"encoding":{"color":{"field":"scenario","type":"nominal","scale":{"domain":["max_BV","OCS"],"range":["#D62728","#9ACD32"]},"legend":{"title":"Scenario","symbolType":"stroke","encode":{"symbols":{"update":{"stroke":{"scale":"color","field":"value"},"opacity":{"value":1}}}}}}}},
{"data":{"name":"lines"},"transform":[{"filter":"datum.p=='1M'"}],"mark":{"type":"line","strokeWidth":5.5,"color":"#BBBBBB","opacity":0.5},"encoding":{"detail":[{"field":"scenario"},{"field":"cryo"}]}},
{"data":{"name":"lines"},"transform":[{"filter":"datum.p=='1M'"}],"mark":{"type":"line","strokeWidth":3.5},
"encoding":{"color":{"field":"scenario","type":"nominal","scale":{"domain":["max_BV","OCS"],"range":["#D62728","#9ACD32"]},"legend":{"title":"Scenario","symbolType":"stroke","encode":{"symbols":{"update":{"stroke":{"scale":"color","field":"value"},"opacity":{"value":1}}}}}},
"strokeDash":{"field":"cryo","type":"nominal","scale":{"domain":["cryo","no_cryo"],"range":[[10,7],[1,0]]},"legend":{"title":"Use of ex situ genetic resources","symbolStrokeColor":"#3366FF"}}}}
]},
{"width":8,"height":13,"data":{"values":[{"a":0}]},"mark":{"type":"point","opacity":0}},

{"width":400,"height":225,"view":{"stroke":"#333333","strokeWidth":1.2},
"encoding":{"x":{"field":"g","type":"quantitative","scale":{"domain":[19.25,35.75],"nice":false,"zero":false},"axis":{"values":[20,22.5,25,27.5,30,32.5,35],"labels":false,"ticks":false,"gridWidth":{"condition":{"test":"datum.value % 5 != 0","value":0.6},"value":1.2},"title":null}},
"y":{"field":"k","type":"quantitative","scale":{"domain":[0.096,0.498],"nice":false,"zero":false},"axis":{"values":[0.1,0.15,0.2,0.25,0.3,0.35,0.4,0.45],"labels":false,"ticks":false,"gridWidth":{"condition":{"test":"abs(datum.value*10-round(datum.value*10))>0.001","value":0.6},"value":1.2},"title":null}}},
"layer":[
{"data":{"name":"p1N"},"transform":[{"fold":["max_BV","OCS"],"as":["scenario","kv"]},{"flatten":["kv"],"as":["k"]}],"mark":{"type":"circle","size":55,"opacity":0.3},
"encoding":{"color":{"field":"scenario","type":"nominal","scale":{"domain":["max_BV","OCS"],"range":["#D62728","#9ACD32"]},"legend":{"title":"Scenario","symbolType":"stroke","encode":{"symbols":{"update":{"stroke":{"scale":"color","field":"value"},"opacity":{"value":1}}}}}}}},
{"data":{"name":"lines"},"transform":[{"filter":"datum.p=='1N'"}],"mark":{"type":"line","strokeWidth":5.5,"color":"#BBBBBB","opacity":0.5},"encoding":{"detail":[{"field":"scenario"},{"field":"cryo"}]}},
{"data":{"name":"lines"},"transform":[{"filter":"datum.p=='1N'"}],"mark":{"type":"line","strokeWidth":3.5},
"encoding":{"color":{"field":"scenario","type":"nominal","scale":{"domain":["max_BV","OCS"],"range":["#D62728","#9ACD32"]},"legend":{"title":"Scenario","symbolType":"stroke","encode":{"symbols":{"update":{"stroke":{"scale":"color","field":"value"},"opacity":{"value":1}}}}}},
"strokeDash":{"field":"cryo","type":"nominal","scale":{"domain":["cryo","no_cryo"],"range":[[10,7],[1,0]]},"legend":{"title":"Use of ex situ genetic resources","symbolStrokeColor":"#3366FF"}}}}
]},
{"width":25,"height":225,"view":{"fill":"#D9D9D9","stroke":"#333333","strokeWidth":1.2},"data":{"values":[{"label":"prolificacy_1"}]},"mark":{"type":"text","fontSize":18,"color":"#1A1A1A","angle":90},"encoding":{"text":{"field":"label"}}},

{"width":8,"height":13,"data":{"values":[{"a":0}]},"mark":{"type":"point","opacity":0}},
{"width":8,"height":13,"data":{"values":[{"a":0}]},"mark":{"type":"point","opacity":0}},
{"width":8,"height":13,"data":{"values":[{"a":0}]},"mark":{"type":"point","opacity":0}},
{"width":8,"height":13,"data":{"values":[{"a":0}]},"mark":{"type":"point","opacity":0}},
{"width":8,"height":13,"data":{"values":[{"a":0}]},"mark":{"type":"point","opacity":0}},
{"width":8,"height":13,"data":{"values":[{"a":0}]},"mark":{"type":"point","opacity":0}},

{"width":400,"height":225,"view":{"stroke":"#333333","strokeWidth":1.2},
"encoding":{"x":{"field":"g","type":"quantitative","scale":{"domain":[19.25,35.75],"nice":false,"zero":false},"axis":{"values":[20,22.5,25,27.5,30,32.5,35],"labels":false,"ticks":false,"gridWidth":{"condition":{"test":"datum.value % 5 != 0","value":0.6},"value":1.2},"title":null}},
"y":{"field":"k","type":"quantitative","scale":{"domain":[0.0953,0.486],"nice":false,"zero":false},"axis":{"values":[0.1,0.15,0.2,0.25,0.3,0.35,0.4,0.45],"labelExpr":"abs(datum.value*10-round(datum.value*10))<0.001 ? format(datum.value,'.1f') : ''","tickOpacity":{"condition":{"test":"abs(datum.value*10-round(datum.value*10))>0.001","value":0},"value":1},"gridWidth":{"condition":{"test":"abs(datum.value*10-round(datum.value*10))>0.001","value":0.6},"value":1.2},"title":"Kinship","titlePadding":10}}},
"layer":[
{"data":{"name":"p2S"},"transform":[{"fold":["max_BV","OCS"],"as":["scenario","kv"]},{"flatten":["kv"],"as":["k"]}],"mark":{"type":"circle","size":55,"opacity":0.3},
"encoding":{"color":{"field":"scenario","type":"nominal","scale":{"domain":["max_BV","OCS"],"range":["#D62728","#9ACD32"]},"legend":{"title":"Scenario","symbolType":"stroke","encode":{"symbols":{"update":{"stroke":{"scale":"color","field":"value"},"opacity":{"value":1}}}}}}}},
{"data":{"name":"lines"},"transform":[{"filter":"datum.p=='2S'"}],"mark":{"type":"line","strokeWidth":5.5,"color":"#BBBBBB","opacity":0.5},"encoding":{"detail":[{"field":"scenario"},{"field":"cryo"}]}},
{"data":{"name":"lines"},"transform":[{"filter":"datum.p=='2S'"}],"mark":{"type":"line","strokeWidth":3.5},
"encoding":{"color":{"field":"scenario","type":"nominal","scale":{"domain":["max_BV","OCS"],"range":["#D62728","#9ACD32"]},"legend":{"title":"Scenario","symbolType":"stroke","encode":{"symbols":{"update":{"stroke":{"scale":"color","field":"value"},"opacity":{"value":1}}}}}},
"strokeDash":{"field":"cryo","type":"nominal","scale":{"domain":["cryo","no_cryo"],"range":[[10,7],[1,0]]},"legend":{"title":"Use of ex situ genetic resources","symbolStrokeColor":"#3366FF"}}}}
]},
{"width":8,"height":13,"data":{"values":[{"a":0}]},"mark":{"type":"point","opacity":0}},

{"width":400,"height":225,"view":{"stroke":"#333333","strokeWidth":1.2},
"encoding":{"x":{"field":"g","type":"quantitative","scale":{"domain":[19.25,35.75],"nice":false,"zero":false},"axis":{"values":[20,22.5,25,27.5,30,32.5,35],"labels":false,"ticks":false,"gridWidth":{"condition":{"test":"datum.value % 5 != 0","value":0.6},"value":1.2},"title":null}},
"y":{"field":"k","type":"quantitative","scale":{"domain":[0.0953,0.486],"nice":false,"zero":false},"axis":{"values":[0.1,0.15,0.2,0.25,0.3,0.35,0.4,0.45],"labels":false,"ticks":false,"gridWidth":{"condition":{"test":"abs(datum.value*10-round(datum.value*10))>0.001","value":0.6},"value":1.2},"title":null}}},
"layer":[
{"data":{"name":"p2M"},"transform":[{"fold":["max_BV","OCS"],"as":["scenario","kv"]},{"flatten":["kv"],"as":["k"]}],"mark":{"type":"circle","size":55,"opacity":0.3},
"encoding":{"color":{"field":"scenario","type":"nominal","scale":{"domain":["max_BV","OCS"],"range":["#D62728","#9ACD32"]},"legend":{"title":"Scenario","symbolType":"stroke","encode":{"symbols":{"update":{"stroke":{"scale":"color","field":"value"},"opacity":{"value":1}}}}}}}},
{"data":{"name":"lines"},"transform":[{"filter":"datum.p=='2M'"}],"mark":{"type":"line","strokeWidth":5.5,"color":"#BBBBBB","opacity":0.5},"encoding":{"detail":[{"field":"scenario"},{"field":"cryo"}]}},
{"data":{"name":"lines"},"transform":[{"filter":"datum.p=='2M'"}],"mark":{"type":"line","strokeWidth":3.5},
"encoding":{"color":{"field":"scenario","type":"nominal","scale":{"domain":["max_BV","OCS"],"range":["#D62728","#9ACD32"]},"legend":{"title":"Scenario","symbolType":"stroke","encode":{"symbols":{"update":{"stroke":{"scale":"color","field":"value"},"opacity":{"value":1}}}}}},
"strokeDash":{"field":"cryo","type":"nominal","scale":{"domain":["cryo","no_cryo"],"range":[[10,7],[1,0]]},"legend":{"title":"Use of ex situ genetic resources","symbolStrokeColor":"#3366FF"}}}}
]},
{"width":8,"height":13,"data":{"values":[{"a":0}]},"mark":{"type":"point","opacity":0}},

{"width":400,"height":225,"view":{"stroke":"#333333","strokeWidth":1.2},
"encoding":{"x":{"field":"g","type":"quantitative","scale":{"domain":[19.25,35.75],"nice":false,"zero":false},"axis":{"values":[20,22.5,25,27.5,30,32.5,35],"labels":false,"ticks":false,"gridWidth":{"condition":{"test":"datum.value % 5 != 0","value":0.6},"value":1.2},"title":null}},
"y":{"field":"k","type":"quantitative","scale":{"domain":[0.0953,0.486],"nice":false,"zero":false},"axis":{"values":[0.1,0.15,0.2,0.25,0.3,0.35,0.4,0.45],"labels":false,"ticks":false,"gridWidth":{"condition":{"test":"abs(datum.value*10-round(datum.value*10))>0.001","value":0.6},"value":1.2},"title":null}}},
"layer":[
{"data":{"name":"p2N"},"transform":[{"fold":["max_BV","OCS"],"as":["scenario","kv"]},{"flatten":["kv"],"as":["k"]}],"mark":{"type":"circle","size":55,"opacity":0.3},
"encoding":{"color":{"field":"scenario","type":"nominal","scale":{"domain":["max_BV","OCS"],"range":["#D62728","#9ACD32"]},"legend":{"title":"Scenario","symbolType":"stroke","encode":{"symbols":{"update":{"stroke":{"scale":"color","field":"value"},"opacity":{"value":1}}}}}}}},
{"data":{"name":"lines"},"transform":[{"filter":"datum.p=='2N'"}],"mark":{"type":"line","strokeWidth":5.5,"color":"#BBBBBB","opacity":0.5},"encoding":{"detail":[{"field":"scenario"},{"field":"cryo"}]}},
{"data":{"name":"lines"},"transform":[{"filter":"datum.p=='2N'"}],"mark":{"type":"line","strokeWidth":3.5},
"encoding":{"color":{"field":"scenario","type":"nominal","scale":{"domain":["max_BV","OCS"],"range":["#D62728","#9ACD32"]},"legend":{"title":"Scenario","symbolType":"stroke","encode":{"symbols":{"update":{"stroke":{"scale":"color","field":"value"},"opacity":{"value":1}}}}}},
"strokeDash":{"field":"cryo","type":"nominal","scale":{"domain":["cryo","no_cryo"],"range":[[10,7],[1,0]]},"legend":{"title":"Use of ex situ genetic resources","symbolStrokeColor":"#3366FF"}}}}
]},
{"width":25,"height":225,"view":{"fill":"#D9D9D9","stroke":"#333333","strokeWidth":1.2},"data":{"values":[{"label":"prolificacy_2"}]},"mark":{"type":"text","fontSize":18,"color":"#1A1A1A","angle":90},"encoding":{"text":{"field":"label"}}},

{"width":8,"height":13,"data":{"values":[{"a":0}]},"mark":{"type":"point","opacity":0}},
{"width":8,"height":13,"data":{"values":[{"a":0}]},"mark":{"type":"point","opacity":0}},
{"width":8,"height":13,"data":{"values":[{"a":0}]},"mark":{"type":"point","opacity":0}},
{"width":8,"height":13,"data":{"values":[{"a":0}]},"mark":{"type":"point","opacity":0}},
{"width":8,"height":13,"data":{"values":[{"a":0}]},"mark":{"type":"point","opacity":0}},
{"width":8,"height":13,"data":{"values":[{"a":0}]},"mark":{"type":"point","opacity":0}},

{"width":400,"height":225,"view":{"stroke":"#333333","strokeWidth":1.2},
"encoding":{"x":{"field":"g","type":"quantitative","scale":{"domain":[19.25,35.75],"nice":false,"zero":false},"axis":{"values":[20,22.5,25,27.5,30,32.5,35],"labelExpr":"datum.value % 5 == 0 ? datum.label : ''","tickOpacity":{"condition":{"test":"datum.value % 5 != 0","value":0},"value":1},"gridWidth":{"condition":{"test":"datum.value % 5 != 0","value":0.6},"value":1.2},"title":null}},
"y":{"field":"k","type":"quantitative","scale":{"domain":[0.0962,0.5207],"nice":false,"zero":false},"axis":{"values":[0.1,0.15,0.2,0.25,0.3,0.35,0.4,0.45,0.5],"labelExpr":"abs(datum.value*10-round(datum.value*10))<0.001 ? format(datum.value,'.1f') : ''","tickOpacity":{"condition":{"test":"abs(datum.value*10-round(datum.value*10))>0.001","value":0},"value":1},"gridWidth":{"condition":{"test":"abs(datum.value*10-round(datum.value*10))>0.001","value":0.6},"value":1.2},"title":null}}},
"layer":[
{"data":{"name":"p3S"},"transform":[{"fold":["max_BV","OCS"],"as":["scenario","kv"]},{"flatten":["kv"],"as":["k"]}],"mark":{"type":"circle","size":55,"opacity":0.3},
"encoding":{"color":{"field":"scenario","type":"nominal","scale":{"domain":["max_BV","OCS"],"range":["#D62728","#9ACD32"]},"legend":{"title":"Scenario","symbolType":"stroke","encode":{"symbols":{"update":{"stroke":{"scale":"color","field":"value"},"opacity":{"value":1}}}}}}}},
{"data":{"name":"lines"},"transform":[{"filter":"datum.p=='3S'"}],"mark":{"type":"line","strokeWidth":5.5,"color":"#BBBBBB","opacity":0.5},"encoding":{"detail":[{"field":"scenario"},{"field":"cryo"}]}},
{"data":{"name":"lines"},"transform":[{"filter":"datum.p=='3S'"}],"mark":{"type":"line","strokeWidth":3.5},
"encoding":{"color":{"field":"scenario","type":"nominal","scale":{"domain":["max_BV","OCS"],"range":["#D62728","#9ACD32"]},"legend":{"title":"Scenario","symbolType":"stroke","encode":{"symbols":{"update":{"stroke":{"scale":"color","field":"value"},"opacity":{"value":1}}}}}},
"strokeDash":{"field":"cryo","type":"nominal","scale":{"domain":["cryo","no_cryo"],"range":[[10,7],[1,0]]},"legend":{"title":"Use of ex situ genetic resources","symbolStrokeColor":"#3366FF"}}}}
]},
{"width":8,"height":13,"data":{"values":[{"a":0}]},"mark":{"type":"point","opacity":0}},

{"width":400,"height":225,"view":{"stroke":"#333333","strokeWidth":1.2},
"encoding":{"x":{"field":"g","type":"quantitative","scale":{"domain":[19.25,35.75],"nice":false,"zero":false},"axis":{"values":[20,22.5,25,27.5,30,32.5,35],"labelExpr":"datum.value % 5 == 0 ? datum.label : ''","tickOpacity":{"condition":{"test":"datum.value % 5 != 0","value":0},"value":1},"gridWidth":{"condition":{"test":"datum.value % 5 != 0","value":0.6},"value":1.2},"title":"Generations","titlePadding":4}},
"y":{"field":"k","type":"quantitative","scale":{"domain":[0.0962,0.5207],"nice":false,"zero":false},"axis":{"values":[0.1,0.15,0.2,0.25,0.3,0.35,0.4,0.45,0.5],"labels":false,"ticks":false,"gridWidth":{"condition":{"test":"abs(datum.value*10-round(datum.value*10))>0.001","value":0.6},"value":1.2},"title":null}}},
"layer":[
{"data":{"name":"p3M"},"transform":[{"fold":["max_BV","OCS"],"as":["scenario","kv"]},{"flatten":["kv"],"as":["k"]}],"mark":{"type":"circle","size":55,"opacity":0.3},
"encoding":{"color":{"field":"scenario","type":"nominal","scale":{"domain":["max_BV","OCS"],"range":["#D62728","#9ACD32"]},"legend":{"title":"Scenario","symbolType":"stroke","encode":{"symbols":{"update":{"stroke":{"scale":"color","field":"value"},"opacity":{"value":1}}}}}}}},
{"data":{"name":"lines"},"transform":[{"filter":"datum.p=='3M'"}],"mark":{"type":"line","strokeWidth":5.5,"color":"#BBBBBB","opacity":0.5},"encoding":{"detail":[{"field":"scenario"},{"field":"cryo"}]}},
{"data":{"name":"lines"},"transform":[{"filter":"datum.p=='3M'"}],"mark":{"type":"line","strokeWidth":3.5},
"encoding":{"color":{"field":"scenario","type":"nominal","scale":{"domain":["max_BV","OCS"],"range":["#D62728","#9ACD32"]},"legend":{"title":"Scenario","symbolType":"stroke","encode":{"symbols":{"update":{"stroke":{"scale":"color","field":"value"},"opacity":{"value":1}}}}}},
"strokeDash":{"field":"cryo","type":"nominal","scale":{"domain":["cryo","no_cryo"],"range":[[10,7],[1,0]]},"legend":{"title":"Use of ex situ genetic resources","symbolStrokeColor":"#3366FF"}}}}
]},
{"width":8,"height":13,"data":{"values":[{"a":0}]},"mark":{"type":"point","opacity":0}},

{"width":400,"height":225,"view":{"stroke":"#333333","strokeWidth":1.2},
"encoding":{"x":{"field":"g","type":"quantitative","scale":{"domain":[19.25,35.75],"nice":false,"zero":false},"axis":{"values":[20,22.5,25,27.5,30,32.5,35],"labelExpr":"datum.value % 5 == 0 ? datum.label : ''","tickOpacity":{"condition":{"test":"datum.value % 5 != 0","value":0},"value":1},"gridWidth":{"condition":{"test":"datum.value % 5 != 0","value":0.6},"value":1.2},"title":null}},
"y":{"field":"k","type":"quantitative","scale":{"domain":[0.0962,0.5207],"nice":false,"zero":false},"axis":{"values":[0.1,0.15,0.2,0.25,0.3,0.35,0.4,0.45,0.5],"labels":false,"ticks":false,"gridWidth":{"condition":{"test":"abs(datum.value*10-round(datum.value*10))>0.001","value":0.6},"value":1.2},"title":null}}},
"layer":[
{"data":{"name":"p3N"},"transform":[{"fold":["max_BV","OCS"],"as":["scenario","kv"]},{"flatten":["kv"],"as":["k"]}],"mark":{"type":"circle","size":55,"opacity":0.3},
"encoding":{"color":{"field":"scenario","type":"nominal","scale":{"domain":["max_BV","OCS"],"range":["#D62728","#9ACD32"]},"legend":{"title":"Scenario","symbolType":"stroke","encode":{"symbols":{"update":{"stroke":{"scale":"color","field":"value"},"opacity":{"value":1}}}}}}}},
{"data":{"name":"lines"},"transform":[{"filter":"datum.p=='3N'"}],"mark":{"type":"line","strokeWidth":5.5,"color":"#BBBBBB","opacity":0.5},"encoding":{"detail":[{"field":"scenario"},{"field":"cryo"}]}},
{"data":{"name":"lines"},"transform":[{"filter":"datum.p=='3N'"}],"mark":{"type":"line","strokeWidth":3.5},
"encoding":{"color":{"field":"scenario","type":"nominal","scale":{"domain":["max_BV","OCS"],"range":["#D62728","#9ACD32"]},"legend":{"title":"Scenario","symbolType":"stroke","encode":{"symbols":{"update":{"stroke":{"scale":"color","field":"value"},"opacity":{"value":1}}}}}},
"strokeDash":{"field":"cryo","type":"nominal","scale":{"domain":["cryo","no_cryo"],"range":[[10,7],[1,0]]},"legend":{"title":"Use of ex situ genetic resources","symbolStrokeColor":"#3366FF"}}}}
]},
{"width":25,"height":225,"view":{"fill":"#D9D9D9","stroke":"#333333","strokeWidth":1.2},"data":{"values":[{"label":"prolificacy_10"}]},"mark":{"type":"text","fontSize":18,"color":"#1A1A1A","angle":90},"encoding":{"text":{"field":"label"}}}
],
"config":{
"view":{"stroke":null},
"font":"Liberation Sans",
"axis":{"gridColor":"#EBEBEB","domain":false,"tickColor":"#333333","tickSize":5,"tickWidth":1.1,"labelFontSize":20,"labelColor":"#1A1A1A","labelPadding":3,"labelFlush":false,"labelOverlap":false,"titleFontSize":22,"titleFontWeight":"bold","titleFontStyle":"italic","titleColor":"#000000"},
"legend":{"orient":"bottom","direction":"horizontal","titleOrient":"left","labelFontSize":18,"titleFontSize":22,"titleFontWeight":"bold","titleFontStyle":"italic","titleColor":"#000000","labelColor":"#1A1A1A","titleLimit":1000,"symbolStrokeWidth":3.5,"symbolSize":576,"offset":42,"columnPadding":14,"layout":{"bottom":{"anchor":"middle","direction":"horizontal","margin":55}}}
}
}
